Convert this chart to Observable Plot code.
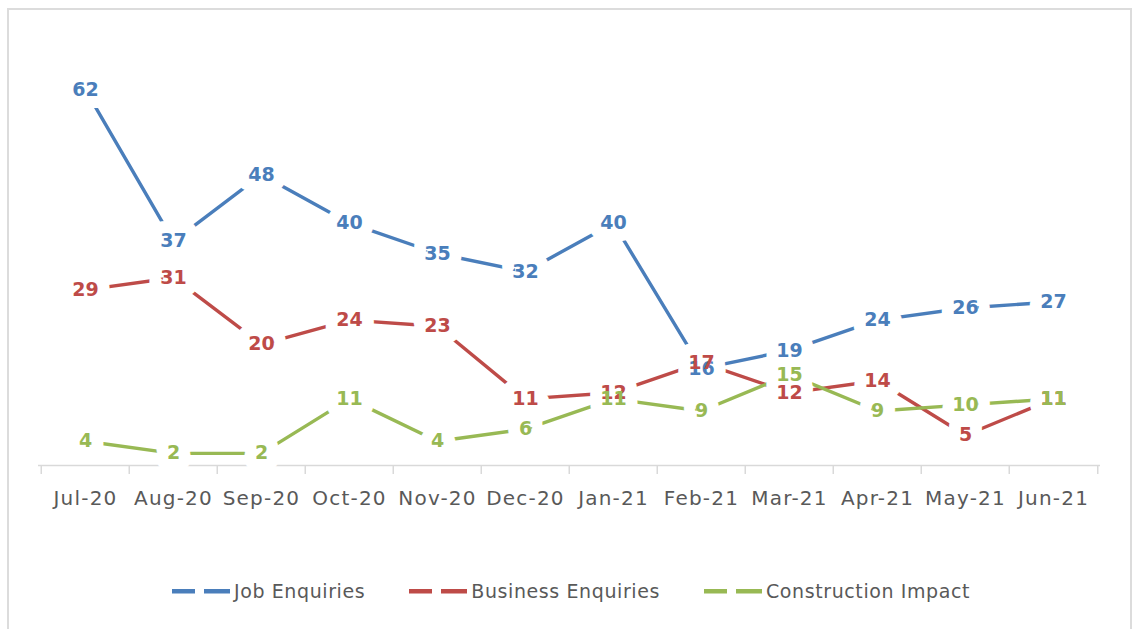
<!DOCTYPE html>
<html>
<head>
<meta charset="utf-8">
<script src="https://cdn.jsdelivr.net/npm/d3@7"></script>
<script src="https://cdn.jsdelivr.net/npm/@observablehq/plot@0.6"></script>
<style>
  html, body { margin: 0; padding: 0; background: #fff; overflow: hidden; width: 1132px; height: 629px; }
  #frame { position: absolute; left: 7px; top: 8px; width: 1121px; height: 700px; border: 2px solid #dcdcdc; border-bottom: none; }
  #chart { position: absolute; left: 0; top: 0; }
  #chart svg g[aria-label="x-axis tick label"] text { letter-spacing: 1.2px; }
  #legend { position: absolute; top: 580px; left: 172px; display: flex; align-items: center; font-family: "DejaVu Sans", sans-serif; font-size: 19px; color: #595959; letter-spacing: 0.6px; }
  .item { display: flex; align-items: center; margin-right: 44px; }
  .item svg { margin-right: 2px; }
</style>
</head>
<body>
<div id="frame"></div>
<div id="chart"></div>
<div id="legend"></div>
<script>
const months = ["Jul-20","Aug-20","Sep-20","Oct-20","Nov-20","Dec-20","Jan-21","Feb-21","Mar-21","Apr-21","May-21","Jun-21"];
const jobEnquiries = [62,37,48,40,35,32,40,16,19,24,26,27];
const businessEnquiries = [29,31,20,24,23,11,12,17,12,14,5,11];
const constructionImpact = [4,2,2,11,4,6,11,9,15,9,10,11];
const seriesNames = ["Job Enquiries","Business Enquiries","Construction Impact"];
const seriesColors = ["#4a7ebb","#be4b48","#98b954"];
const seriesValues = [jobEnquiries, businessEnquiries, constructionImpact];

const data = [];
seriesNames.forEach((s, i) => months.forEach((m, j) => data.push({series: s, month: m, value: seriesValues[i][j]})));

const W = 1132, mL = 38, mR = 32;
const step = (W - mL - mR) / months.length;

const chart = Plot.plot({
  width: W, height: 530,
  marginLeft: mL, marginRight: mR, marginTop: 41, marginBottom: 65,
  style: {fontFamily: "DejaVu Sans, sans-serif", background: "transparent"},
  x: {type: "point", domain: months, padding: 0.5, label: null},
  y: {domain: [0, 70], axis: null},
  color: {domain: seriesNames, range: seriesColors},
  marks: [
    Plot.ruleY([0], {stroke: "#d9d9d9", strokeWidth: 1.5}),
    Plot.ruleX(months, {x: d => d, y1: 0, y2: -1.5, dx: -step / 2, stroke: "#d9d9d9", strokeWidth: 1.5}),
    Plot.ruleX(months.slice(-1), {x: d => d, y1: 0, y2: -1.5, dx: step / 2, stroke: "#d9d9d9", strokeWidth: 1.5}),
    Plot.axisX({tickSize: 0, tickPadding: 25, fontSize: 20, color: "#595959"}),
    Plot.line(data, {x: "month", y: "value", z: "series", stroke: "series", strokeWidth: 3.4}),
    Plot.text(data, {x: "month", y: "value", text: d => String(d.value), fill: "white", stroke: "white", strokeWidth: 24, fontSize: 19, fontWeight: "bold"}),
    Plot.text(data, {x: "month", y: "value", text: d => String(d.value), fill: "series", fontSize: 19, fontWeight: "bold"})
  ]
});
document.getElementById("chart").appendChild(chart);

const legend = document.getElementById("legend");
seriesNames.forEach((s, i) => {
  const item = document.createElement("div");
  item.className = "item";
  item.innerHTML = `<svg width="60" height="10"><rect x="0" y="3" width="23" height="4.5" fill="${seriesColors[i]}"/><rect x="32" y="3" width="26" height="4.5" fill="${seriesColors[i]}"/></svg><span>${s}</span>`;
  legend.appendChild(item);
});
</script>
</body>
</html>
